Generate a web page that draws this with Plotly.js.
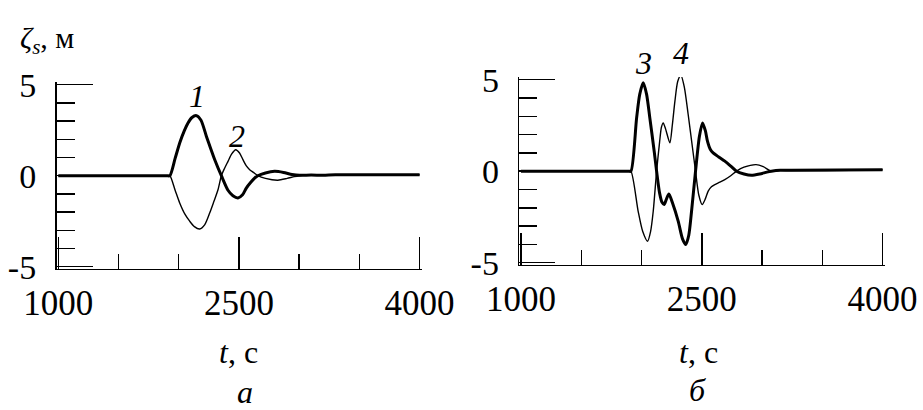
<!DOCTYPE html>
<html>
<head>
<meta charset="utf-8">
<script src="https://cdn.plot.ly/plotly-3.0.1.min.js"></script>
<style>
html,body{margin:0;padding:0;background:#fff;}
#chart{width:923px;height:410px;}
</style>
</head>
<body>
<div id="chart"></div>
<script>
// ---- data ----
// Panel а
const tA1 = [1000,1900,1926,1970,2008,2045,2077,2110,2147,2185,2230,2265,2299,2354,2409,2450,2492,2530,2561,2600,2630,2657,2720,2796,2870,2940,3003,3100,3200,3300,4000];
const vA1 = [0,0,0,0.95,1.8,2.45,2.9,3.2,3.3,3.05,2.16,1.5,0.88,0,-0.8,-1.1,-1.22,-1.05,-0.68,-0.35,-0.13,0,0.15,0.24,0.18,0.07,0.02,0.04,0.02,0.05,0.05];
const tA2 = [1000,1900,1926,1970,2008,2050,2091,2130,2174,2215,2257,2290,2326,2354,2380,2409,2440,2473,2505,2533,2560,2589,2620,2657,2720,2823,2900,2960,3003,3100,3200,3300,4000];
const vA2 = [0,0,0,-0.8,-1.5,-2.1,-2.5,-2.8,-2.93,-2.7,-2.05,-1.45,-0.77,0,0.4,0.79,1.2,1.43,1.25,0.88,0.55,0.33,0.18,0,-0.15,-0.25,-0.15,-0.05,0,0.06,0.04,0.05,0.05];
// Panel б
const tB3 = [1000,1890,1912,1959,1985,2014,2042,2069,2105,2125,2150,2170,2188,2205,2227,2255,2304,2340,2367,2392,2415,2448,2480,2506,2530,2547,2570,2594,2640,2691,2740,2788,2850,2912,2980,3040,3077,3150,3243,4000];
const vB3 = [0,0,0,2.9,4.2,4.83,4.2,2.9,1.09,0,-1.2,-1.7,-1.82,-1.55,-1.24,-1.7,-2.73,-3.7,-4.01,-3.5,-2.19,0,1.9,2.64,2.2,1.64,1.2,1.0,0.78,0.55,0.28,0,-0.15,-0.22,-0.15,-0.05,0,0.05,0.05,0.08];
const tB4 = [1000,1890,1912,1972,2010,2050,2075,2097,2125,2150,2165,2180,2200,2235,2255,2277,2300,2326,2355,2387,2423,2448,2475,2503,2530,2553,2580,2608,2650,2691,2740,2788,2850,2950,3010,3077,3150,3243,4000];
const vB4 = [0,0,0,-2.19,-3.3,-3.83,-3.3,-2.19,0,1.6,2.4,2.64,2.3,1.55,2.5,3.83,4.9,5.25,4.6,3.1,1.27,0,-1.3,-1.82,-1.5,-1.09,-0.85,-0.73,-0.6,-0.46,-0.25,0,0.22,0.36,0.25,0,0.05,0.03,0.08];

const xTickVals = [1000,2500,4000];
const xTickText = ['1000','2500','4000'];
const xMinorVals = [1500,2000,3000,3500];
const yTickVals = [-5,0,5];
const yTickText = ['-5','0','5'];
const yMinorVals = [-4,-3,-2,-1,1,2,3,4];

// ---- drawing ----
const W = 923, H = 410;
const px = x => x / W;
const py = y => 1 - y / H;
const FONT = 'Liberation Serif';

function line(t, v, xa, ya, w) {
  return {x: t, y: v, xaxis: xa, yaxis: ya, type: 'scatter', mode: 'lines',
          line: {color: '#000', width: w, shape: 'spline', smoothing: 0.7},
          cliponaxis: false, hoverinfo: 'skip', showlegend: false};
}

const data = [
  line(tA2, vA2, 'x', 'y', 1.4),
  line(tA1, vA1, 'x', 'y', 3),
  line(tB4, vB4, 'x2', 'y2', 1.4),
  line(tB3, vB3, 'x2', 'y2', 3)
];

function xaxis(domain, anchor) {
  return {domain: domain, anchor: anchor, range: [985, 4020],
    tickmode: 'array', tickvals: xTickVals, ticktext: xTickText,
    ticks: 'inside', ticklen: 32, tickwidth: 1.5, tickcolor: '#000',
    minor: {tickmode: 'array', tickvals: xMinorVals, ticks: 'inside', ticklen: 15, tickwidth: 1.5, tickcolor: '#000', showgrid: false},
    showline: true, linecolor: '#000', linewidth: 1.5,
    showgrid: false, zeroline: false, fixedrange: true,
    ticklabelstandoff: 3,
    tickfont: {family: FONT, size: 35, color: '#000'}};
}
function yaxis(domain, anchor) {
  return {domain: domain, anchor: anchor, range: [-5.1, 5.15],
    tickmode: 'array', tickvals: yTickVals, ticktext: yTickText,
    ticks: 'inside', ticklen: 36, tickwidth: 1.5, tickcolor: '#000',
    minor: {tickmode: 'array', tickvals: yMinorVals, ticks: 'inside', ticklen: 18, tickwidth: 1.5, tickcolor: '#000', showgrid: false},
    showline: true, linecolor: '#000', linewidth: 1.5,
    showgrid: false, zeroline: false, fixedrange: true,
    ticklabelstandoff: 12,
    tickfont: {family: FONT, size: 34, color: '#000'}};
}

function ann(text, x, y, size) {
  return {text: text, x: px(x), y: py(y), xref: 'paper', yref: 'paper',
          showarrow: false, xanchor: 'center', yanchor: 'middle',
          font: {family: FONT, size: size, color: '#000'}};
}

const layout = {
  width: W, height: H,
  margin: {l: 0, r: 0, t: 0, b: 0},
  paper_bgcolor: '#fff', plot_bgcolor: '#fff',
  showlegend: false,
  xaxis: xaxis([px(56.5), px(422)], 'y'),
  yaxis: yaxis([py(268.5), py(82)], 'x'),
  xaxis2: xaxis([px(519.2), px(885)], 'y2'),
  yaxis2: yaxis([py(264.5), py(77)], 'x2'),
  annotations: [
    Object.assign(ann('<i>ζ<sub>s</sub></i>, м', 18, 40, 30), {xanchor: 'left'}),
    ann('<i>t</i>, с', 238, 352, 32),
    ann('<i>t</i>, с', 698, 352, 32),
    ann('<i>а</i>', 245, 392, 32),
    ann('<i>б</i>', 697, 390, 32),
    ann('<i>1</i>', 197, 96, 32),
    ann('<i>2</i>', 237, 136, 32),
    ann('<i>3</i>', 643, 63, 32),
    ann('<i>4</i>', 681, 53, 32)
  ]
};

Plotly.newPlot('chart', data, layout, {staticPlot: true, displayModeBar: false});
</script>
</body>
</html>
